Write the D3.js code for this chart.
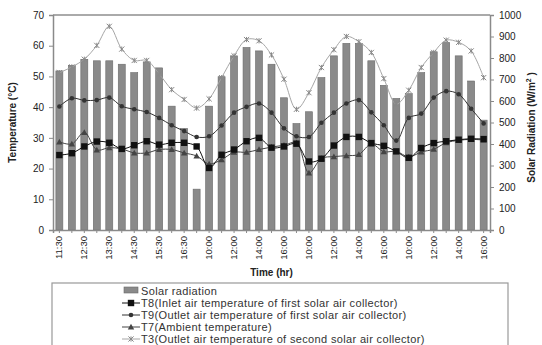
<!DOCTYPE html>
<html>
<head>
<meta charset="utf-8" />
<title>Solar air collector temperatures</title>
<style>
  body { margin: 0; background: #fff; }
  text { font-family: "Liberation Sans", Arial, sans-serif; }
</style>
</head>
<body>
<script src="https://d3js.org/d3.v7.min.js"></script>
<script>
// time of each reading (4 test days)
var times = ["11:30","12:00","12:30","13:00","13:30","14:00","14:30","15:00","15:30","16:00","16:30","17:00",
             "10:00","11:00","12:00","13:00","14:00","15:00","16:00","17:00",
             "10:00","11:00","12:00","13:00","14:00","15:00","16:00","17:00",
             "10:00","11:00","12:00","13:00","14:00","15:00","16:00"];

// solar radiation W/m2 (bars, right axis)
var solar = [740, 766, 794, 787, 787, 771, 732, 782, 754, 576, 472, 190,
             576, 713, 810, 849, 833, 771, 615, 495,
             550, 709, 810, 868, 868, 787, 673, 612,
             634, 732, 829, 872, 810, 693, 511];

// temperatures in C (left axis)
var t8 = [24.4, 25.0, 27.2, 28.8, 28.4, 26.4, 27.6, 28.9, 27.8, 28.4, 28.4, 27.2,
          20.2, 24.5, 26.2, 28.9, 30.0, 26.8, 27.2, 28.1,
          22.3, 23.2, 27.5, 30.3, 30.3, 28.3, 27.4, 25.6,
          23.5, 26.7, 28.3, 28.9, 29.4, 29.7, 29.6];
var t9 = [40.2, 42.9, 42.2, 42.3, 43.1, 40.3, 39.3, 38.4, 36.5, 34.1, 32.2, 30.3,
          30.5, 34.0, 38.2, 40.1, 41.2, 38.2, 33.1, 30.5,
          30.3, 34.9, 38.2, 41.2, 42.3, 38.3, 34.1, 29.1,
          36.5, 37.9, 43.1, 45.2, 44.2, 39.5, 34.7];
var t7 = [28.7, 28.0, 31.8, 26.1, 26.8, 26.4, 25.1, 25.1, 26.2, 26.2, 25.1, 24.1,
          21.5, 22.9, 25.3, 25.3, 26.2, 27.0, 27.6, 28.4,
          18.6, 23.3, 23.9, 24.2, 24.6, 28.0, 25.5, 25.6,
          23.8, 25.4, 26.3, 28.4, 29.2, 29.5, 29.3];
var t3 = [51.2, 53.1, 55.6, 60.1, 66.3, 58.9, 55.2, 55.2, 50.8, 45.7, 42.5, 39.7,
          42.7, 49.6, 56.7, 62.0, 61.6, 57.0, 49.1, 39.3,
          44.7, 52.9, 58.7, 63.0, 61.3, 57.8, 49.3, 41.0,
          45.5, 52.9, 57.8, 61.8, 61.1, 58.3, 49.6];

var tempTicks = [0, 10, 20, 30, 40, 50, 60, 70];
var solarTicks = [0, 100, 200, 300, 400, 500, 600, 700, 800, 900, 1000];

var legendNames = ["Solar radiation",
  "T8(Inlet air temperature of first solar air collector)",
  "T9(Outlet air temperature of first solar air collector)",
  "T7(Ambient temperature)",
  "T3(Outlet air temperature of second solar air collector)"];

var width = 542, height = 345;
var plotLeft = 53, plotRight = 490, plotTop = 15, plotBottom = 230;

var svg = d3.select("body").append("svg")
    .attr("width", width)
    .attr("height", height);

var x = d3.scaleBand()
    .domain(d3.range(times.length))
    .range([plotLeft, plotRight])
    .paddingInner(0.44)
    .paddingOuter(0.23);

var yT = d3.scaleLinear().domain([0, 70]).range([plotBottom, plotTop]);
var yS = d3.scaleLinear().domain([0, 1000]).range([plotBottom, plotTop]);

var axisGrey = "#8a8a8a";

// top border
svg.append("line")
    .attr("x1", plotLeft).attr("x2", plotRight)
    .attr("y1", plotTop).attr("y2", plotTop)
    .attr("stroke", "#aaa").attr("stroke-width", 2);

// bars
svg.append("g").selectAll("rect")
    .data(solar)
    .enter().append("rect")
    .attr("x", (d, i) => x(i))
    .attr("width", x.bandwidth())
    .attr("y", d => yS(d))
    .attr("height", d => plotBottom - yS(d))
    .attr("fill", "#8a8a8a")
    .attr("stroke", "#6a6a6a")
    .attr("stroke-width", 0.6);

// axes
var leftAxis = svg.append("g")
    .attr("transform", "translate(" + plotLeft + ",0)")
    .call(d3.axisLeft(yT).tickValues(tempTicks).tickSize(4).tickPadding(5));
var rightAxis = svg.append("g")
    .attr("transform", "translate(" + plotRight + ",0)")
    .call(d3.axisRight(yS).tickValues(solarTicks).tickFormat(d3.format("d")).tickSize(4).tickPadding(5));
var bottomAxis = svg.append("g")
    .attr("transform", "translate(0," + plotBottom + ")")
    .call(d3.axisBottom(x).tickSize(3).tickFormat((d, i) => i % 2 == 0 ? times[i] : ""));

[leftAxis, rightAxis, bottomAxis].forEach(function(g) {
  g.select(".domain").attr("stroke", axisGrey).attr("stroke-width", 1.5);
  g.selectAll(".tick line").attr("stroke", axisGrey);
  g.selectAll("text").attr("font-size", 10).attr("fill", "#222")
    .attr("font-family", "Liberation Sans, Arial, sans-serif");
});

bottomAxis.selectAll(".tick text")
    .attr("transform", "rotate(-90)")
    .attr("text-anchor", "end")
    .attr("dx", "-6")
    .attr("dy", "0.32em")
    .attr("x", 0).attr("y", 0)
    .attr("font-size", 9.5);

// axis titles
svg.append("text")
    .attr("transform", "translate(16," + ((plotTop + plotBottom) / 2) + ") rotate(-90)")
    .attr("text-anchor", "middle")
    .attr("font-size", 10).attr("font-weight", "bold").attr("fill", "#222")
    .text("Temperature (\u00b0C)");

var rt = svg.append("text")
    .attr("transform", "translate(535," + ((plotTop + plotBottom) / 2 + 5) + ") rotate(-90)")
    .attr("text-anchor", "middle")
    .attr("font-size", 10).attr("font-weight", "bold").attr("fill", "#222");
rt.append("tspan").text("Solar Radiation (W/m");
rt.append("tspan").attr("font-size", 7).attr("dy", -4).text("2");
rt.append("tspan").attr("dy", 4).text(" )");

svg.append("text")
    .attr("x", (plotLeft + plotRight) / 2).attr("y", 276)
    .attr("text-anchor", "middle")
    .attr("font-size", 10).attr("font-weight", "bold").attr("fill", "#222")
    .text("Time (hr)");

// series lines
var series = [
  {values: t3, color: "#a6a6a6", width: 1, marker: "cross", size: 2.6},
  {values: t7, color: "#444", width: 1, marker: "triangle", size: 3.2},
  {values: t9, color: "#333", width: 1, marker: "circle", size: 2.3},
  {values: t8, color: "#111", width: 1, marker: "square", size: 3.2}
];

function cx(i) { return x(i) + x.bandwidth() / 2; }

function drawMarker(g, type, px, py, s, color) {
  if (type == "square") {
    g.append("rect").attr("x", px - s).attr("y", py - s)
      .attr("width", 2 * s).attr("height", 2 * s).attr("fill", color);
  } else if (type == "circle") {
    g.append("circle").attr("cx", px).attr("cy", py).attr("r", s).attr("fill", color);
  } else if (type == "triangle") {
    g.append("path")
      .attr("d", "M" + px + "," + (py - s) + "L" + (px + s) + "," + (py + s * 0.8) + "L" + (px - s) + "," + (py + s * 0.8) + "Z")
      .attr("fill", color);
  } else {
    g.append("path")
      .attr("d", "M" + (px - s) + "," + (py - s) + "L" + (px + s) + "," + (py + s) +
                 "M" + (px - s) + "," + (py + s) + "L" + (px + s) + "," + (py - s) +
                 "M" + px + "," + (py - s) + "L" + px + "," + (py + s))
      .attr("stroke", "#888").attr("stroke-width", 1).attr("fill", "none");
  }
}

var line = d3.line()
    .x((d, i) => cx(i))
    .y(d => yT(d))
    .curve(d3.curveCatmullRom.alpha(0.5));

series.forEach(function(s) {
  var g = svg.append("g");
  g.append("path")
    .attr("d", line(s.values))
    .attr("fill", "none")
    .attr("stroke", s.color)
    .attr("stroke-width", s.width);
  s.values.forEach(function(v, i) {
    drawMarker(g, s.marker, cx(i), yT(v), s.size, s.marker == "cross" ? "#888" : s.color);
  });
});

// legend
var lg = svg.append("g");
lg.append("rect")
    .attr("x", 52).attr("y", 283)
    .attr("width", 456).attr("height", 80)
    .attr("fill", "#fff")
    .attr("stroke", "#999").attr("stroke-width", 1.2);

var legendY = [291, 303, 315, 327, 339];
var legendStyles = [null, series[3], series[2], series[1], series[0]];
legendNames.forEach(function(name, i) {
  var yy = legendY[i];
  if (i == 0) {
    lg.append("rect").attr("x", 124).attr("y", yy - 4).attr("width", 14).attr("height", 6)
      .attr("fill", "#8a8a8a").attr("stroke", "#6a6a6a").attr("stroke-width", 0.6);
  } else {
    var st = legendStyles[i];
    lg.append("line").attr("x1", 122).attr("x2", 140).attr("y1", yy).attr("y2", yy)
      .attr("stroke", st.color).attr("stroke-width", 1);
    drawMarker(lg, st.marker, 131, yy, st.size, st.marker == "cross" ? "#888" : st.color);
  }
  lg.append("text")
    .attr("x", 141).attr("y", yy + 4)
    .attr("font-size", 11).attr("letter-spacing", 0.35).attr("fill", "#333")
    .text(name);
});
</script>
</body>
</html>
